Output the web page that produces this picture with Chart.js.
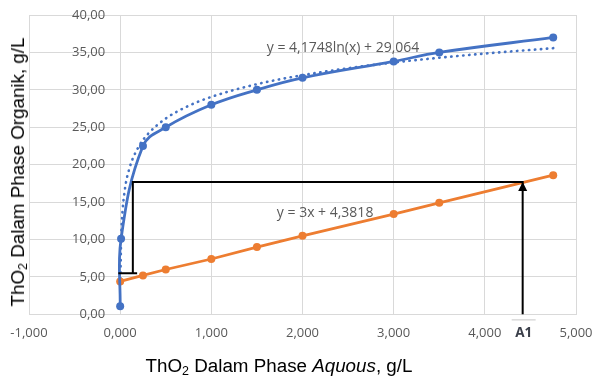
<!DOCTYPE html>
<html>
<head>
<meta charset="utf-8">
<script src="https://cdn.jsdelivr.net/npm/chart.js@4"></script>
<style>
  html, body { margin: 0; padding: 0; background: #fff; }
  #wrap { position: relative; width: 595px; height: 378px; }
  canvas { position: absolute; left: 0; top: 0; }
  .xtitle { position: absolute; left: 0; width: 558px; top: 355px; text-align: center; line-height: 22px;
            font-family: "Liberation Sans", Arial, sans-serif; font-size: 18.8px; color: #000; white-space: nowrap; }
  .ytitle { position: absolute; left: 18px; top: 172px; transform: translate(-50%, -50%) rotate(-90deg); line-height: 22px;
            font-family: "Liberation Sans", Arial, sans-serif; font-size: 18.8px; color: #000; white-space: nowrap; }
  sub { font-size: 12.5px; vertical-align: -3px; line-height: 0; }
</style>
</head>
<body>
<div id="wrap">
  <canvas id="c" width="595" height="378"></canvas>
  <div class="ytitle">ThO<sub>2</sub> Dalam Phase Organik, g/L</div>
  <div class="xtitle">ThO<sub>2</sub> Dalam Phase <i>Aquous</i>, g/L</div>
</div>
<script>
// ---- data ----
const organicX = [0, 0.01, 0.25, 0.5, 1, 1.5, 2, 3, 3.5, 4.75];
const organicY = [1.1, 10.1, 22.5, 25.0, 28.0, 30.0, 31.6, 33.8, 35.0, 37.0];
const aqueousX = [0, 0.25, 0.5, 1, 1.5, 2, 3, 3.5, 4.75];
const aqueousY = [4.4, 5.2, 6.0, 7.4, 9.0, 10.5, 13.4, 14.9, 18.6];
const logTrendX = [0.003, 0.01, 0.02, 0.05, 0.1, 0.2, 0.3, 0.5, 0.75, 1, 1.5, 2, 2.5, 3, 3.5, 4, 4.75];
const logTrendY = [4.81, 9.84, 12.73, 16.56, 19.45, 22.35, 24.04, 26.17, 27.86, 29.06, 30.76, 31.96, 32.89, 33.65, 34.29, 34.85, 35.57];
const guideX = [0.139, 0.139, 4.415, 4.415];
const guideY = [5.5, 17.7, 17.7, 0];
const stubX = [-0.02, 0.186];
const stubY = [5.5, 5.5];
const logEquation = "y = 4,1748ln(x) + 29,064";
const linEquation = "y = 3x + 4,3818";
const logEqPos = [2.445, 35.55];
const linEqPos = [2.248, 13.58];
const markerLabel = "A1";
const markerX = 4.415;
const xMin = -1, xMax = 5, xStep = 1;
const yMin = 0, yMax = 40, yStep = 5;
const yLabelAnchorX = -0.165;

const pts = (xs, ys) => xs.map((x, i) => ({ x: x, y: ys[i] }));
const BLUE = '#4472C4', ORANGE = '#ED7D31', GRID = '#d9d9d9', TXT = '#595959';

const annot = {
  id: 'annot',
  afterDatasetsDraw(chart) {
    const { ctx, scales: { x, y } } = chart;
    ctx.save();
    // equations
    ctx.fillStyle = TXT;
    ctx.font = '14px "Open Sans", sans-serif';
    ctx.textAlign = 'center';
    ctx.textBaseline = 'middle';
    ctx.fillText(logEquation, x.getPixelForValue(logEqPos[0]), y.getPixelForValue(logEqPos[1]));
    ctx.fillText(linEquation, x.getPixelForValue(linEqPos[0]), y.getPixelForValue(linEqPos[1]));
    // arrow head
    const ax = x.getPixelForValue(markerX);
    const ay = y.getPixelForValue(guideY[2]);
    ctx.fillStyle = '#000';
    ctx.beginPath();
    ctx.moveTo(ax, ay);
    ctx.lineTo(ax - 4.5, ay + 9);
    ctx.lineTo(ax + 4.5, ay + 9);
    ctx.closePath();
    ctx.fill();
    // A1 label
    const by = y.getPixelForValue(0);
    ctx.strokeStyle = '#c8c8c8';
    ctx.lineWidth = 1;
    ctx.beginPath();
    ctx.moveTo(ax - 11, by + 5.5);
    ctx.lineTo(ax + 13, by + 5.5);
    ctx.stroke();
    ctx.fillStyle = '#3b3f4a';
    ctx.font = 'bold 13.5px "Open Sans", sans-serif';
    ctx.fillText(markerLabel, ax + 1, by + 19);
    ctx.restore();
  }
};

new Chart(document.getElementById('c'), {
  type: 'scatter',
  data: {
    datasets: [
      { data: pts(logTrendX, logTrendY), showLine: true, borderColor: BLUE, borderWidth: 2.6,
        borderDash: [0.4, 5.6], borderCapStyle: 'round', pointRadius: 0, cubicInterpolationMode: 'monotone', order: 3 },
      { data: pts(organicX, organicY), showLine: true, borderColor: BLUE, backgroundColor: BLUE,
        borderWidth: 2.8, pointRadius: 4, pointBorderWidth: 0, tension: 0.4, order: 2 },
      { data: pts(aqueousX, aqueousY), showLine: true, borderColor: ORANGE, backgroundColor: ORANGE,
        borderWidth: 2.8, pointRadius: 4, pointBorderWidth: 0, order: 2 },
      { data: pts(guideX, guideY), showLine: true, borderColor: '#000', borderWidth: 2, pointRadius: 0, order: 1 },
      { data: pts(stubX, stubY), showLine: true, borderColor: '#000', borderWidth: 2, pointRadius: 0, order: 1 }
    ]
  },
  options: {
    responsive: false,
    animation: false,
    layout: { padding: { left: 29, right: 19, top: 15, bottom: 26 } },
    plugins: { legend: { display: false }, tooltip: { enabled: false } },
    scales: {
      x: {
        type: 'linear', min: xMin, max: xMax,
        afterFit: s => { s.paddingLeft = 0; s.paddingRight = 0; },
        ticks: { stepSize: xStep, color: TXT, padding: 11,
                 font: { family: '"Open Sans", sans-serif', size: 13 },
                 callback: v => v.toFixed(3).replace('.', ',') },
        grid: { color: GRID, drawTicks: false },
        border: { color: GRID }
      },
      y: {
        type: 'linear', min: yMin, max: yMax, position: { x: yLabelAnchorX },
        afterFit: s => { s.paddingTop = 0; s.paddingBottom = 0; },
        ticks: { stepSize: yStep, color: TXT, padding: 0,
                 font: { family: '"Open Sans", sans-serif', size: 13 },
                 callback: v => v.toFixed(2).replace('.', ',') },
        grid: { color: GRID, drawTicks: false },
        border: { display: false }
      }
    }
  },
  plugins: [annot]
});
</script>
</body>
</html>
